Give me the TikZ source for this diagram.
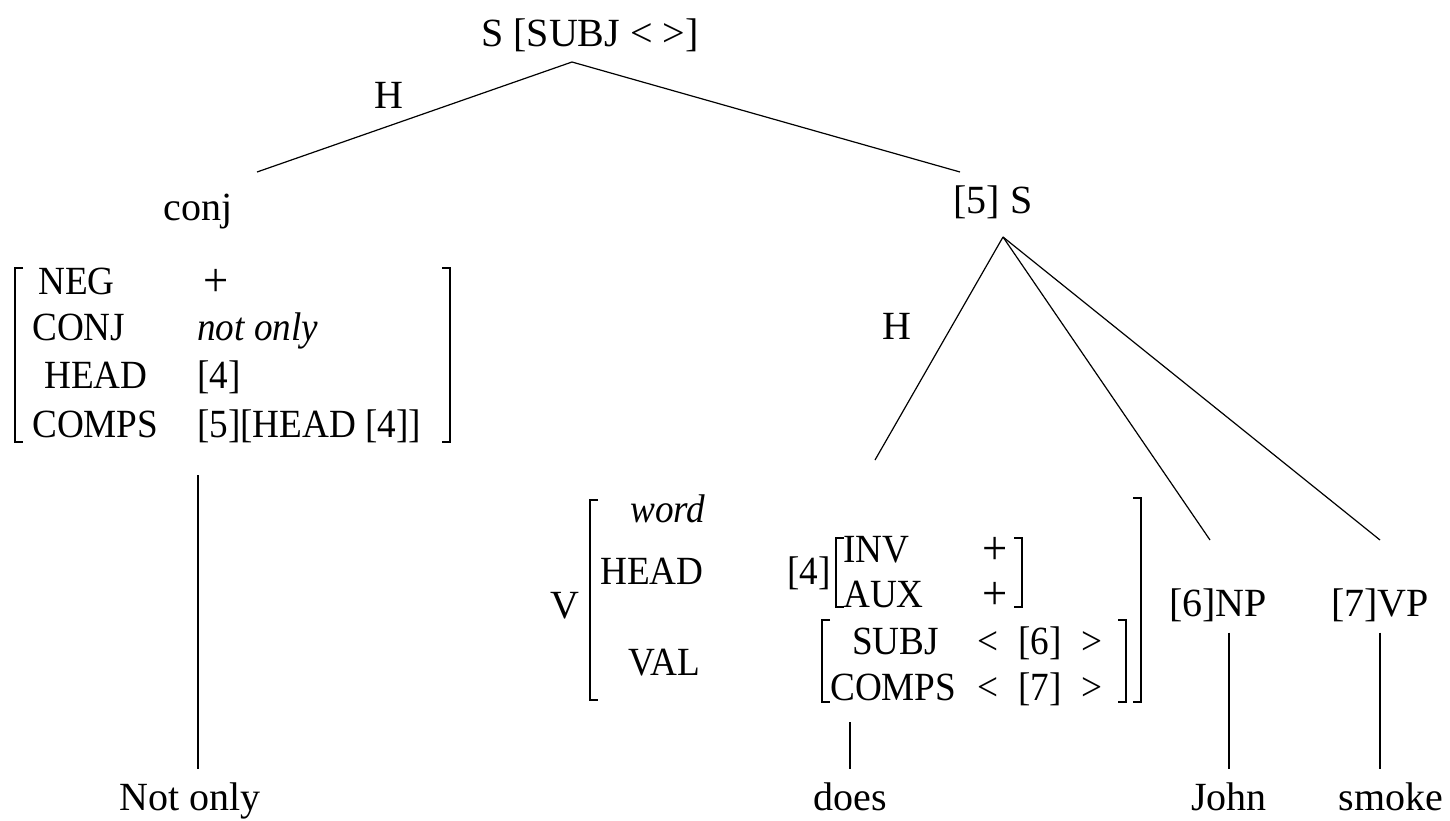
\documentclass[tikz,border=0pt]{standalone}
\usepackage{fontspec}
\setmainfont{Liberation Serif}
\newfontfamily\featfont[FakeStretch=0.93]{Liberation Serif}
\usetikzlibrary{positioning}

% brackets of the feature structures: x, top y, bottom y
\newcommand{\avmopen}[3]{\draw[brk] ({#1+8},#2) -- (#1,#2) -- (#1,#3) -- ({#1+8},#3);}
\newcommand{\avmclose}[3]{\draw[brk] ({#1-8},#2) -- (#1,#2) -- (#1,#3) -- ({#1-8},#3);}

\begin{document}
\begin{tikzpicture}[x=1pt,y=-1pt]
 \tikzset{lbl/.style={inner sep=0pt, anchor=base, font=\fontsize{40}{48}\selectfont},
          feat/.style={inner sep=0pt, anchor=base west, font=\featfont\fontsize{40}{48}\selectfont},
          plus/.style={feat, font=\featfont\fontsize{48}{48}\selectfont, text height=26pt, text depth=0pt},
          edge/.style={line width=1.2pt},
          brk/.style={line width=1.6pt}}
 \useasboundingbox (0,0) rectangle (1450,820);
  % tree labels
  \node[lbl] (root) at (590,46) {S [SUBJ < >]};
  \node[lbl] (conj) at (198,220) {conj};
  \node[lbl] (S5) at (993,213) {[5] S};
  \node[lbl] (V) at (565,618) {V};
  \node[lbl] (NP) at (1218,616) {[6]NP};
  \node[lbl] (VP) at (1380,616) {[7]VP};
  \node[lbl] (notonly) at (190,810) {Not only};
  \node[lbl] (does) at (850,810) {does};
  \node[lbl] (john) at (1229,810) {John};
  \node[lbl] (smoke) at (1391,810) {smoke};
  % line ends
  \coordinate (apex) at (572,62);
  \coordinate (conjtop) at (257,172);
  \coordinate (S5top) at (960,172);
  \coordinate (S5foot) at (1003,237);
  \coordinate (Vtop) at (875,460);
  \coordinate (NPtop) at (1210,540);
  \coordinate (VPtop) at (1380,540);
  \coordinate (conjfoot) at (198,475);
  \coordinate (Vfoot) at (850,722);
  \draw[edge] (conjtop) -- node[pos=0.55, above left=2pt and 26pt, lbl, anchor=south east] {H} (apex) -- (S5top);
  \draw[edge] (S5foot) -- node[pos=0.4, left=40pt, lbl, anchor=east] {H} (Vtop);
  \draw[edge] (S5foot) -- (NPtop);
  \draw[edge] (S5foot) -- (VPtop);
  \draw[edge, shorten >=13pt] (conjfoot) -- (conjfoot |- notonly.north);
  \draw[edge, shorten >=13pt] (Vfoot) -- (Vfoot |- does.north);
  \draw[edge, shorten <=11pt, shorten >=13pt] (john.north |- NP.south) -- (john.north);
  \draw[edge, shorten <=11pt, shorten >=13pt] (VP.south) -- (VP.south |- smoke.north);
  % conj features
  \avmopen{15}{268}{442}
  \avmclose{450}{268}{442}
  \node[feat] (neg) at (38,294) {NEG};
  \node[feat] (conjf) at (32,340) {CONJ};
  \node[feat] (headf) at (44,388) {HEAD};
  \node[feat] (compsf) at (32,437) {COMPS};
  \node[plus] (negv) at (203,296) {+};
  \node[feat] (conjv) at (197,340) {\itshape not only};
  \node[feat] (headv) at (197,388) {[4]};
  \node[feat] (compsv) at (197,437) {[5][HEAD [4]]};
  % V features
  \avmopen{590}{500}{700}
  \avmclose{1141}{498}{702}
  \node[feat] (word) at (630,522) {\itshape word};
  \node[feat] (vhead) at (600,584) {HEAD};
  \node[feat] (vheadv) at (787,584) {[4]};
  \avmopen{836}{538}{607}
  \avmclose{1022}{538}{607}
  \node[feat] (inv) at (843,562) {INV};
  \node[feat] (aux) at (843,607) {AUX};
  \node[plus] (invv) at (982,564) {+};
  \node[plus] (auxv) at (982,609) {+};
  \node[feat] (val) at (628,675) {VAL};
  \avmopen{822}{620}{702}
  \avmclose{1126}{620}{702}
  \node[feat] (subj) at (852,654) {SUBJ};
  \node[feat] (comps) at (830,700) {COMPS};
  \node[feat] (subjv) at (977,654) {<\enspace[6]\enspace>};
  \node[feat] (compsv2) at (977,700) {<\enspace[7]\enspace>};
\end{tikzpicture}
\end{document}
